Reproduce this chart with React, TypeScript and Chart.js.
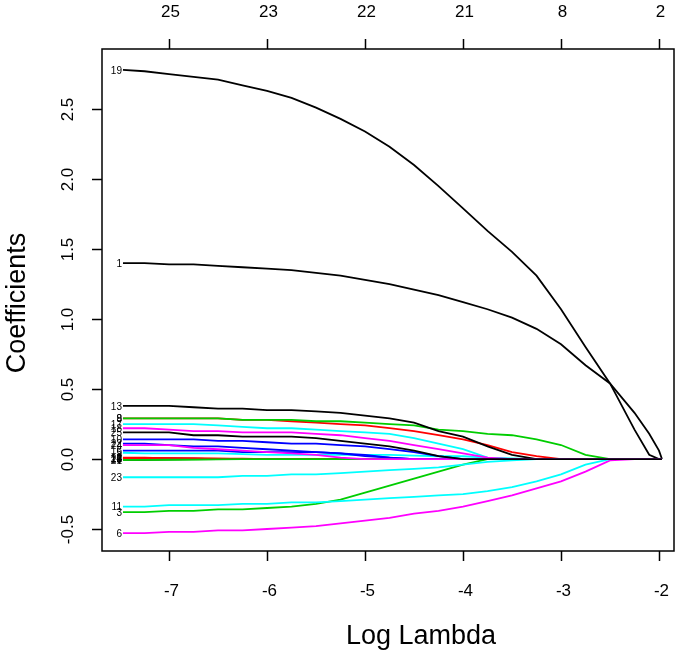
import React, { useEffect, useRef } from "react";
import { Chart, registerables } from "chart.js";

Chart.register(...registerables);

// Log(lambda) grid shared by every coefficient path
const logLambda = [-7.47, -7.25, -7.0, -6.75, -6.5, -6.25, -6.0, -5.75, -5.5, -5.25, -5.0, -4.75, -4.5, -4.25, -4.0, -3.75, -3.5, -3.25, -3.0, -2.75, -2.5, -2.25, -2.1, -2.0, -1.97];

const coef1 = [1.40, 1.40, 1.39, 1.39, 1.38, 1.37, 1.36, 1.35, 1.33, 1.31, 1.28, 1.25, 1.21, 1.17, 1.12, 1.07, 1.01, 0.93, 0.82, 0.67, 0.54, 0.33, 0.18, 0.06, 0];
const coef2 = [0.010, 0.010, 0.005, 0, 0, 0, 0, 0, 0, 0, 0, 0, 0, 0, 0, 0, 0, 0, 0, 0, 0, 0, 0, 0, 0];
const coef3 = [-0.38, -0.38, -0.37, -0.37, -0.36, -0.36, -0.35, -0.34, -0.32, -0.29, -0.24, -0.19, -0.14, -0.09, -0.04, 0, 0, 0, 0, 0, 0, 0, 0, 0, 0];
const coef4 = [0.005, 0.005, 0.005, 0.003, 0, 0, 0, 0, 0, 0, 0, 0, 0, 0, 0, 0, 0, 0, 0, 0, 0, 0, 0, 0, 0];
const coef5 = [0.045, 0.04, 0.04, 0.04, 0.04, 0.035, 0.03, 0.03, 0.03, 0.03, 0.03, 0.03, 0.025, 0.02, 0.02, 0.01, 0.005, 0, 0, 0, 0, 0, 0, 0, 0];
const coef6 = [-0.53, -0.53, -0.52, -0.52, -0.51, -0.51, -0.50, -0.49, -0.48, -0.46, -0.44, -0.42, -0.39, -0.37, -0.34, -0.30, -0.26, -0.21, -0.16, -0.09, -0.01, 0, 0, 0, 0];
const coef7 = [-0.005, -0.005, -0.003, 0, 0, 0, 0, 0, 0, 0, 0, 0, 0, 0, 0, 0, 0, 0, 0, 0, 0, 0, 0, 0, 0];
const coef8 = [0.29, 0.29, 0.29, 0.29, 0.29, 0.28, 0.28, 0.27, 0.26, 0.25, 0.24, 0.22, 0.20, 0.17, 0.14, 0.10, 0.05, 0.02, 0, 0, 0, 0, 0, 0, 0];
const coef9 = [0.29, 0.29, 0.29, 0.29, 0.29, 0.28, 0.28, 0.28, 0.27, 0.27, 0.26, 0.25, 0.24, 0.21, 0.20, 0.18, 0.17, 0.14, 0.10, 0.03, 0, 0, 0, 0, 0];
const coef10 = [0.14, 0.14, 0.14, 0.14, 0.13, 0.13, 0.12, 0.11, 0.11, 0.10, 0.09, 0.07, 0.05, 0.02, 0, 0, 0, 0, 0, 0, 0, 0, 0, 0, 0];
const coef11 = [-0.34, -0.34, -0.33, -0.33, -0.33, -0.32, -0.32, -0.31, -0.31, -0.30, -0.29, -0.28, -0.27, -0.26, -0.25, -0.23, -0.20, -0.16, -0.11, -0.04, 0, 0, 0, 0, 0];
const coef12 = [0.004, 0.004, 0.003, 0.002, 0, 0, 0, 0, 0, 0, 0, 0, 0, 0, 0, 0, 0, 0, 0, 0, 0, 0, 0, 0, 0];
const coef13 = [0.38, 0.38, 0.38, 0.37, 0.36, 0.36, 0.35, 0.35, 0.34, 0.33, 0.31, 0.29, 0.26, 0.20, 0.16, 0.09, 0.03, 0, 0, 0, 0, 0, 0, 0, 0];
const coef14 = [0.008, 0.008, 0.006, 0.004, 0.002, 0, 0, 0, 0, 0, 0, 0, 0, 0, 0, 0, 0, 0, 0, 0, 0, 0, 0, 0, 0];
const coef15 = [-0.004, -0.004, -0.003, -0.002, 0, 0, 0, 0, 0, 0, 0, 0, 0, 0, 0, 0, 0, 0, 0, 0, 0, 0, 0, 0, 0];
const coef16 = [0.06, 0.06, 0.06, 0.06, 0.06, 0.05, 0.05, 0.05, 0.05, 0.04, 0.03, 0.01, 0, 0, 0, 0, 0, 0, 0, 0, 0, 0, 0, 0, 0];
const coef17 = [0.25, 0.25, 0.25, 0.25, 0.24, 0.23, 0.22, 0.22, 0.21, 0.20, 0.19, 0.18, 0.15, 0.11, 0.07, 0.01, 0, 0, 0, 0, 0, 0, 0, 0, 0];
const coef18 = [0.22, 0.22, 0.21, 0.20, 0.20, 0.19, 0.19, 0.19, 0.18, 0.17, 0.15, 0.13, 0.10, 0.07, 0.04, 0.01, 0, 0, 0, 0, 0, 0, 0, 0, 0];
const coef19 = [2.78, 2.77, 2.75, 2.73, 2.71, 2.67, 2.63, 2.58, 2.51, 2.43, 2.34, 2.23, 2.10, 1.95, 1.79, 1.63, 1.48, 1.31, 1.07, 0.80, 0.54, 0.21, 0.03, 0, 0];
const coef20 = [0.006, 0.006, 0.005, 0.004, 0.003, 0.002, 0, 0, 0, 0, 0, 0, 0, 0, 0, 0, 0, 0, 0, 0, 0, 0, 0, 0, 0];
const coef21 = [-0.006, -0.006, -0.005, -0.004, -0.003, 0, 0, 0, 0, 0, 0, 0, 0, 0, 0, 0, 0, 0, 0, 0, 0, 0, 0, 0, 0];
const coef22 = [0.11, 0.11, 0.10, 0.09, 0.09, 0.08, 0.07, 0.06, 0.05, 0.04, 0.02, 0.01, 0, 0, 0, 0, 0, 0, 0, 0, 0, 0, 0, 0, 0];
const coef23 = [-0.13, -0.13, -0.13, -0.13, -0.13, -0.12, -0.12, -0.11, -0.11, -0.10, -0.09, -0.08, -0.07, -0.06, -0.04, -0.02, -0.01, 0, 0, 0, 0, 0, 0, 0, 0];
const coef24 = [0.10, 0.10, 0.10, 0.08, 0.07, 0.06, 0.05, 0.04, 0.03, 0.01, 0, 0, 0, 0, 0, 0, 0, 0, 0, 0, 0, 0, 0, 0, 0];
const coef25 = [0.19, 0.19, 0.19, 0.17, 0.17, 0.16, 0.16, 0.16, 0.15, 0.13, 0.11, 0.09, 0.06, 0.02, 0, 0, 0, 0, 0, 0, 0, 0, 0, 0, 0];

const coefSeries = [coef1, coef2, coef3, coef4, coef5, coef6, coef7, coef8, coef9, coef10, coef11, coef12, coef13, coef14, coef15, coef16, coef17, coef18, coef19, coef20, coef21, coef22, coef23, coef24, coef25];
const seriesLabels = ["1", "2", "3", "4", "5", "6", "7", "8", "9", "10", "11", "12", "13", "14", "15", "16", "17", "18", "19", "20", "21", "22", "23", "24", "25"];

// R's classic palette cycled by matplot
const palette = ["#000000", "#FF0000", "#00CD00", "#0000FF", "#00FFFF", "#FF00FF"];

const xTicks = [-7, -6, -5, -4, -3, -2];
const xTickLabels = ["-7", "-6", "-5", "-4", "-3", "-2"];
const topTickLabels = ["25", "23", "22", "21", "8", "2"];
const yTicks = [-0.5, 0, 0.5, 1, 1.5, 2, 2.5];
const yTickLabels = ["-0.5", "0.0", "0.5", "1.0", "1.5", "2.0", "2.5"];

const FONT = '"Liberation Sans", Arial, Helvetica, sans-serif';

const axesPlugin = {
  id: "rAxes",
  afterDraw(chart: any) {
    const ctx = chart.ctx as CanvasRenderingContext2D;
    const { left, right, top, bottom } = chart.chartArea;
    const xs = chart.scales.x;
    const ys = chart.scales.y;
    ctx.save();
    ctx.strokeStyle = "#000";
    ctx.fillStyle = "#000";
    ctx.lineWidth = 1.5;
    ctx.strokeRect(left, top, right - left, bottom - top);

    const tick = 10;
    ctx.font = `17px ${FONT}`;
    ctx.textAlign = "center";
    ctx.textBaseline = "middle";
    xTicks.forEach((v, i) => {
      const px = Math.round(xs.getPixelForValue(v)) + 0.5;
      ctx.beginPath();
      ctx.moveTo(px, bottom);
      ctx.lineTo(px, bottom + tick);
      ctx.moveTo(px, top);
      ctx.lineTo(px, top - tick);
      ctx.stroke();
      ctx.fillText(xTickLabels[i], px + 2, bottom + 40);
      ctx.fillText(topTickLabels[i], px + 1, top - 37);
    });
    yTicks.forEach((v, i) => {
      const py = Math.round(ys.getPixelForValue(v)) + 0.5;
      ctx.beginPath();
      ctx.moveTo(left, py);
      ctx.lineTo(left - tick, py);
      ctx.stroke();
      ctx.save();
      ctx.translate(left - 34, py);
      ctx.rotate(-Math.PI / 2);
      ctx.fillText(yTickLabels[i], 0, 0);
      ctx.restore();
    });

    ctx.font = `27px ${FONT}`;
    ctx.fillText("Log Lambda", 421, bottom + 86);
    ctx.save();
    ctx.translate(18, (top + bottom) / 2 + 3);
    ctx.rotate(-Math.PI / 2);
    ctx.fillText("Coefficients", 0, 0);
    ctx.restore();

    // variable labels at the left end of each path
    ctx.font = `10px ${FONT}`;
    ctx.textAlign = "right";
    const x0 = xs.getPixelForValue(logLambda[0]);
    coefSeries.forEach((s, i) => {
      ctx.fillText(seriesLabels[i], x0 - 1, ys.getPixelForValue(s[0]) + 1);
    });
    ctx.restore();
  },
};

export default function App() {
  const ref = useRef<HTMLCanvasElement>(null);
  useEffect(() => {
    document.body.style.margin = "0";
    document.body.style.overflow = "hidden";
    const canvas = ref.current as HTMLCanvasElement;
    const n = coefSeries.length;
    const datasets = coefSeries.map((s, i) => ({
      label: seriesLabels[i],
      data: logLambda.map((x, j) => ({ x, y: s[j] })),
      borderColor: palette[i % palette.length],
      backgroundColor: palette[i % palette.length],
      borderWidth: 1.8,
      pointRadius: 0,
      tension: 0,
      fill: false,
      order: n - i,
    }));
    const chart = new Chart(canvas, {
      type: "line",
      data: { datasets },
      options: {
        responsive: false,
        animation: false,
        devicePixelRatio: 1,
        layout: { padding: { left: 102, top: 49, right: 11, bottom: 107 } },
        plugins: { legend: { display: false }, tooltip: { enabled: false } },
        scales: {
          x: { type: "linear", min: -7.684, max: -1.847, display: false },
          y: { type: "linear", min: -0.657, max: 2.929, display: false },
        },
      },
      plugins: [axesPlugin],
    } as any);
    return () => chart.destroy();
  }, []);
  return <canvas ref={ref} width={685} height={658} style={{ display: "block" }} />;
}
